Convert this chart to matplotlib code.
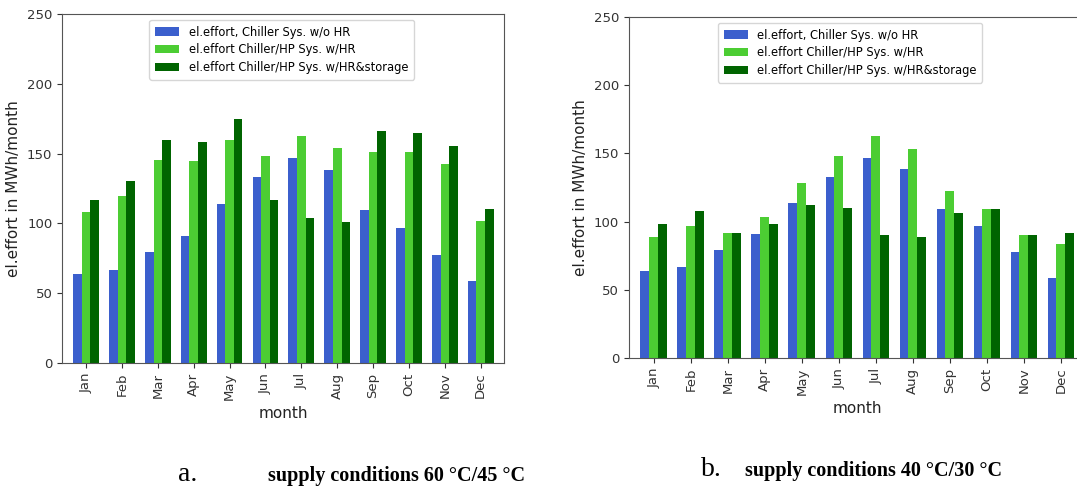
import numpy as np
import matplotlib
matplotlib.use('Agg')
import matplotlib.pyplot as plt

# monthly electrical effort in MWh/month
months = ['Jan', 'Feb', 'Mar', 'Apr', 'May', 'Jun', 'Jul', 'Aug', 'Sep', 'Oct', 'Nov', 'Dec']
labels = ['el.effort, Chiller Sys. w/o HR',
          'el.effort Chiller/HP Sys. w/HR',
          'el.effort Chiller/HP Sys. w/HR&storage']

chiller = [64, 66.5, 79.5, 91, 114, 133, 146.5, 138.5, 109.5, 96.5, 77.5, 59]

# a. supply conditions 60/45
hr_60 = [108, 119.5, 145.5, 144.5, 159.5, 148, 162.5, 154, 151.5, 151, 142.5, 101.5]
st_60 = [117, 130.5, 159.5, 158, 174.5, 117, 104, 101, 166, 165, 155.5, 110.5]

# b. supply conditions 40/30
hr_40 = [89, 96.5, 92, 103.5, 128, 148, 162.5, 153.5, 122.5, 109.5, 90, 83.5]
st_40 = [98, 108, 92, 98, 112, 110, 90.5, 89, 106, 109.5, 90, 92]

colors = ['#3b5fcd', '#4ccd33', '#006400']

fig = plt.figure(figsize=(10.77, 4.86), dpi=100)
ax1 = fig.add_axes([0.0576, 0.2531, 0.4104, 0.7181])
# right panel runs past the right edge of the figure (cropped in the original)
ax2 = fig.add_axes([0.584, 0.2634, 0.4234, 0.7016])

x = np.arange(len(months))
w = 0.24


def draw(ax, series, leg_x):
    for i, (vals, lab, col) in enumerate(zip(series, labels, colors)):
        ax.bar(x + (i - 1) * w, vals, w, color=col, label=lab)
    ax.set_xlim(-0.67, 11.65)
    ax.set_ylim(0, 250)
    ax.set_xticks(x)
    ax.set_xticklabels(months, rotation=90)
    ax.set_yticks([0, 50, 100, 150, 200, 250])
    ax.tick_params(labelsize=9.5, colors='#333333', length=3.5)
    for sp in ax.spines.values():
        sp.set_color('#555555')
    ax.set_xlabel('month', fontsize=11, color='#222222')
    ax.set_ylabel('el.effort in MWh/month', fontsize=11, color='#222222')
    ax.legend(loc='upper center', bbox_to_anchor=(leg_x, 1.0), fontsize=8.3,
              handlelength=2.1, borderpad=0.5, labelspacing=0.4, framealpha=0.8)


draw(ax1, [chiller, hr_60, st_60], 0.497)
draw(ax2, [chiller, hr_40, st_40], 0.485)

# figure captions
fig.text(0.165, 0.011, 'a.', fontsize=20, family='Liberation Serif', va='baseline')
fig.text(0.249, 0.011, 'supply conditions 60 \u00b0C/45 \u00b0C', fontsize=14.5,
         family='Liberation Serif', weight='bold', va='baseline')
fig.text(0.651, 0.021, 'b.', fontsize=20, family='Liberation Serif', va='baseline')
fig.text(0.692, 0.021, 'supply conditions 40 \u00b0C/30 \u00b0C', fontsize=14.5,
         family='Liberation Serif', weight='bold', va='baseline')

plt.savefig('out.png', dpi=100)
